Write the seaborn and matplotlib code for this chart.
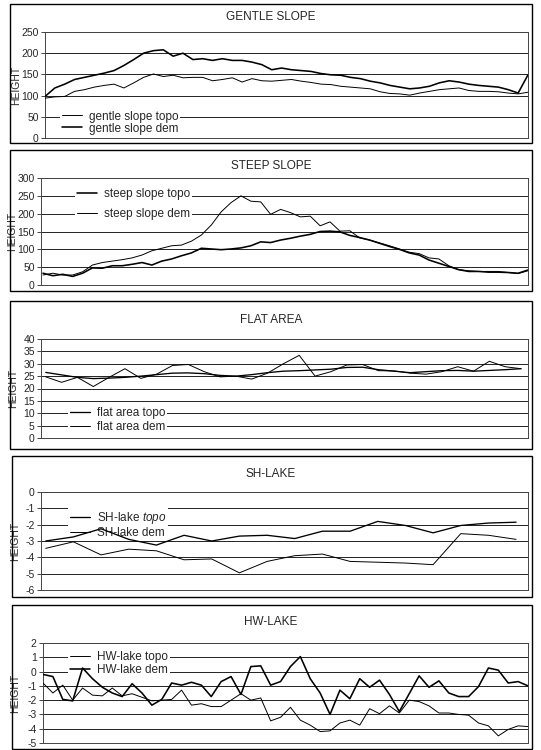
import numpy as np
import pandas as pd
import matplotlib
matplotlib.use("Agg")
import matplotlib.pyplot as plt
from matplotlib.patches import Rectangle
import seaborn as sns

# ---------------- data ----------------
gentle_topo = [94, 97, 98, 110, 114, 120, 124, 127, 118, 130, 143, 151, 145, 148, 142, 143, 143, 135, 138, 142,
               132, 140, 135, 134, 136, 138, 134, 131, 127, 126, 122, 120, 118, 116, 109, 105, 104, 101, 106, 110,
               114, 116, 118, 112, 110, 110, 109, 106, 104, 108]
gentle_dem = [98, 118, 127, 138, 143, 148, 153, 159, 171, 185, 200, 206, 208, 193, 200, 185, 187, 183, 187, 183,
              183, 179, 173, 161, 165, 161, 159, 157, 152, 149, 148, 143, 140, 134, 130, 124, 120, 116, 118, 122,
              130, 135, 132, 127, 124, 122, 120, 114, 106, 149]

steep_topo = [33, 26, 30, 24, 33, 48, 47, 54, 54, 58, 63, 56, 67, 73, 82, 90, 103, 101, 99, 101,
              104, 110, 121, 119, 126, 131, 137, 142, 150, 151, 149, 139, 133, 126, 117, 108, 100, 90, 84, 70,
              61, 52, 43, 38, 38, 36, 36, 35, 33, 42]
steep_dem = [28, 33, 28, 28, 37, 56, 63, 67, 71, 76, 84, 96, 103, 110, 112, 123, 140, 168, 205, 231,
             250, 235, 233, 198, 212, 203, 191, 193, 166, 177, 151, 152, 132, 126, 118, 110, 101, 92, 88, 76,
             73, 54, 43, 40, 38, 38, 38, 35, 32, 40]

flat_topo = [26.5, 25.5, 24.5, 24.0, 24.2, 24.5, 25.0, 25.6, 26.2, 26.3, 26.0, 25.3, 25.0, 25.6, 26.4, 27.0,
             27.2, 27.5, 27.8, 28.5, 28.6, 27.6, 27.0, 26.4, 26.8, 27.2, 27.3, 27.0, 27.3, 27.6, 28.0]
flat_dem = [24.7, 22.5, 24.5, 20.8, 24.5, 28.0, 24.1, 25.8, 29.3, 29.7, 26.8, 24.7, 25.0, 23.8, 26.2, 30.0,
            33.4, 25.0, 26.8, 29.5, 29.7, 27.2, 27.1, 26.2, 25.8, 26.8, 28.8, 27.0, 31.0, 28.8, 28.0]

sh_topo = [-3.0, -2.75, -2.25, -2.9, -3.25, -2.65, -3.0, -2.7, -2.65, -2.85, -2.4, -2.4, -1.8, -2.05,
           -2.5, -2.05, -1.9, -1.85]
sh_dem = [-3.45, -3.05, -3.85, -3.5, -3.6, -4.15, -4.1, -4.95, -4.25, -3.9, -3.8, -4.25, -4.3, -4.35,
          -4.45, -2.55, -2.65, -2.9]

hw_topo = [-0.8, -1.5, -0.95, -2.0, -1.15, -1.65, -1.7, -1.15, -1.7, -1.55, -1.8, -2.05, -2.0, -1.95, -1.3,
           -2.35, -2.25, -2.45, -2.45, -2.0, -1.55, -2.0, -1.85, -3.45, -3.2, -2.5, -3.4, -3.75, -4.2, -4.15,
           -3.6, -3.4, -3.75, -2.6, -2.95, -2.4, -2.9, -2.0, -2.1, -2.4, -2.9, -2.9, -3.0, -3.05, -3.6, -3.8,
           -4.5, -4.05, -3.8, -3.85]
hw_dem = [-0.2, -0.35, -1.95, -2.05, 0.25, -0.5, -1.1, -1.5, -1.75, -0.85, -1.5, -2.35, -1.95, -0.8, -0.95,
          -0.75, -0.95, -1.75, -0.7, -0.35, -1.6, 0.35, 0.4, -0.95, -0.7, 0.35, 1.05, -0.5, -1.5, -3.0,
          -1.3, -1.9, -0.5, -1.1, -0.6, -1.6, -2.8, -1.55, -0.3, -1.1, -0.65, -1.5, -1.75, -1.75, -1.05, 0.25,
          0.1, -0.8, -0.7, -1.0]

titles = ["GENTLE SLOPE", "STEEP SLOPE", "FLAT AREA", "SH-LAKE", "HW-LAKE"]

# ---------------- style ----------------
sns.set_style("white")
plt.rcParams['font.family'] = ['Liberation Sans', 'DejaVu Sans']
plt.rcParams['mathtext.fontset'] = 'custom'
plt.rcParams['mathtext.rm'] = 'Liberation Sans'
plt.rcParams['mathtext.it'] = 'Liberation Sans:italic'

W, H = 541, 750
fig = plt.figure(figsize=(W / 100, H / 100), dpi=100)
fig.patch.set_facecolor('white')


def frac(x0, y0, x1, y1):
    return [x0 / W, 1 - y1 / H, (x1 - x0) / W, (y1 - y0) / H]


THICK, THIN = 1.15, 0.7

panels = [
    dict(frame=(10, 4, 532, 143), ax=(45, 32, 528, 138), ty=17, lab_x=21,
         series=[(gentle_topo, "gentle slope topo", THIN), (gentle_dem, "gentle slope dem", THICK)],
         ylim=(0, 250), step=50, xlim=(0, 49),
         leg=(0.031, 0.146), lsp=0.0),
    dict(frame=(10, 150, 532, 291), ax=(41, 178, 528, 285), ty=166, lab_x=17,
         series=[(steep_topo, "steep slope topo", THICK), (steep_dem, "steep slope dem", THIN)],
         ylim=(0, 300), step=50, xlim=(-0.2, 49),
         leg=(0.07, 0.757), lsp=0.7),
    dict(frame=(10, 301, 532, 449), ax=(41, 339, 528, 438), ty=320, lab_x=18,
         series=[(flat_topo, "flat area topo", 0.95), (flat_dem, "flat area dem", THIN)],
         ylim=(0, 40), step=5, xlim=(-0.3, 30.44),
         leg=(0.055, 0.18), lsp=0.2),
    dict(frame=(12, 456, 532, 597), ax=(41, 492, 528, 590), ty=474, lab_x=20,
         series=[(sh_topo, "SH-lake $\\it{topo}$", 0.95), (sh_dem, "SH-lake dem", THIN)],
         ylim=(-6, 0), step=1, xlim=(-0.17, 17.43),
         leg=(0.055, 0.668), lsp=0.1),
    dict(frame=(12, 605, 532, 749), ax=(43, 643, 528, 743), ty=622, lab_x=20,
         series=[(hw_topo, "HW-lake topo", THIN), (hw_dem, "HW-lake dem", THICK)],
         ylim=(-5, 2), step=1, xlim=(0, 49),
         leg=(0.052, 0.795), lsp=0.1),
]

for p, title in zip(panels, titles):
    fx0, fy0, fx1, fy1 = p['frame']
    fig.add_artist(Rectangle((fx0 / W, 1 - fy1 / H), (fx1 - fx0) / W, (fy1 - fy0) / H,
                             transform=fig.transFigure, fill=False, edgecolor='black', linewidth=1.0))
    fig.text(271 / W, 1 - p['ty'] / H, title, ha='center', va='center', fontsize=8.5)

    ax = fig.add_axes(frac(*p['ax']))
    for vals, lab, lw in p['series']:
        sns.lineplot(x=np.arange(len(vals)), y=vals, ax=ax, color='black', linewidth=lw, label=lab,
                     zorder=3)

    lo, hi = p['ylim']
    ax.set_ylim(lo, hi)
    ax.set_xlim(*p['xlim'])
    ticks = np.arange(lo, hi + p['step'] / 2, p['step'])
    ax.set_yticks(ticks)
    ax.set_yticklabels([f"{t:g}" for t in ticks])
    ax.set_xticks([])
    ax.yaxis.grid(True, color='#222222', linewidth=0.7)
    ax.xaxis.grid(False)
    ax.set_axisbelow(True)
    ax.tick_params(axis='y', labelsize=7.5, length=3, width=0.6, pad=1.5, left=True, direction='out')
    for s in ax.spines.values():
        s.set_color('#444444')
        s.set_linewidth(0.7)
    ax.set_xlabel('')
    ax.set_ylabel('HEIGHT', fontsize=7.5, labelpad=1)
    axl = p['ax'][0]
    ax.yaxis.set_label_coords((p['lab_x'] - axl) / (p['ax'][2] - axl), 0.5)

    leg = ax.legend(loc='center left', bbox_to_anchor=p['leg'], frameon=True, fancybox=False,
                    facecolor='white', edgecolor='none', framealpha=1, fontsize=8.5,
                    handlelength=1.7, handletextpad=0.6, labelspacing=p['lsp'],
                    borderpad=0.15, borderaxespad=0)
    leg.set_zorder(2)

fig.savefig('out.png', dpi=100, facecolor='white')
